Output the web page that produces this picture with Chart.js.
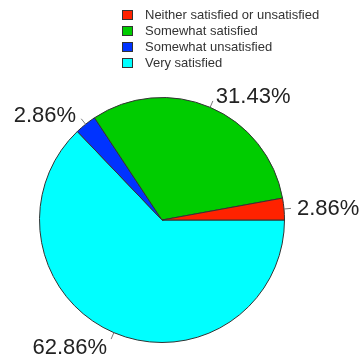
<!DOCTYPE html>
<html>
<head>
<meta charset="utf-8">
<script src="https://cdn.jsdelivr.net/npm/chart.js@4"></script>
<style>
  body { margin: 0; background: #fff; }
  #caja { position: relative; width: 360px; height: 358px; }
  #leyenda { position: absolute; left: 122px; top: 7px; font: 13px "Liberation Sans", Arial, sans-serif; color: #333; }
  .fila { height: 16px; line-height: 16px; display: flex; align-items: center; }
  .punto { width: 9px; height: 8px; border: 1px solid #333; margin-right: 12px; }
</style>
</head>
<body>
<div id="caja">
  <canvas id="grafica-pastel"></canvas>
  <div id="leyenda"></div>
</div>
<script>
/* ===== DATOS ===== */

const ETIQUETAS = ["Neither satisfied or unsatisfied", "Somewhat satisfied", "Somewhat unsatisfied", "Very satisfied"];
const PORCENTAJES = [2.86, 31.43, 2.86, 62.86];
const COLORES = ["#ff2200", "#00cc00", "#0033ff", "#00ffff"];

/* ===== ETIQUETAS EXTERIORES ===== */

// Dibuja el porcentaje fuera de cada porción con una pequeña guía
const etiquetasExteriores = {
  id: "etiquetasExteriores",
  afterDatasetsDraw(chart) {
    const ctx = chart.ctx;
    const meta = chart.getDatasetMeta(0);
    ctx.save();
    ctx.font = '22px "Liberation Sans", Arial, sans-serif';
    ctx.fillStyle = "#222";
    ctx.strokeStyle = "#777";
    ctx.lineWidth = 1;
    ctx.textBaseline = "middle";
    meta.data.forEach(function(arco, i) {
      const p = arco.getProps(["x", "y", "startAngle", "endAngle", "outerRadius"], true);
      const medio = (p.startAngle + p.endAngle) / 2;
      const cos = Math.cos(medio), sin = Math.sin(medio);
      ctx.beginPath();
      ctx.moveTo(p.x + cos * p.outerRadius, p.y + sin * p.outerRadius);
      ctx.lineTo(p.x + cos * (p.outerRadius + 7), p.y + sin * (p.outerRadius + 7));
      ctx.stroke();
      const r = p.outerRadius + 12;
      ctx.textAlign = cos >= 0 ? "left" : "right";
      const desp = cos >= 0 ? 1 : -2;
      ctx.fillText(chart.data.datasets[0].data[i].toFixed(2) + "%", p.x + cos * r + desp, p.y + sin * r + (sin > 0 ? 4 : 1));
    });
    ctx.restore();
  },
};

/* ===== GRÁFICA ===== */

function inicializarGraficaPastel() {
  const lienzo = document.getElementById("grafica-pastel");
  // el orden se invierte para que las porciones avancen en sentido antihorario
  const orden = [3, 2, 1, 0];
  new Chart(lienzo, {
    type: "pie",
    data: {
      labels: orden.map(function(i) { return ETIQUETAS[i]; }),
      datasets: [{
        data: orden.map(function(i) { return PORCENTAJES[i]; }),
        backgroundColor: orden.map(function(i) { return COLORES[i]; }),
        borderColor: "#333",
        borderWidth: 1,
        hoverOffset: 0,
      }],
    },
    options: {
      responsive: true,
      maintainAspectRatio: false,
      animation: false,
      rotation: 90,
      layout: { padding: { left: 39, right: 75, top: 97, bottom: 15 } },
      plugins: {
        legend: { display: false },
        tooltip: { enabled: false },
      },
    },
    plugins: [etiquetasExteriores],
  });
}

function generarLeyenda() {
  const contenedor = document.getElementById("leyenda");
  ETIQUETAS.forEach(function(etiqueta, i) {
    const fila = document.createElement("div");
    fila.className = "fila";
    const punto = document.createElement("span");
    punto.className = "punto";
    punto.style.backgroundColor = COLORES[i];
    const texto = document.createElement("span");
    texto.textContent = etiqueta;
    fila.appendChild(punto);
    fila.appendChild(texto);
    contenedor.appendChild(fila);
  });
}

inicializarGraficaPastel();
generarLeyenda();
</script>
</body>
</html>
